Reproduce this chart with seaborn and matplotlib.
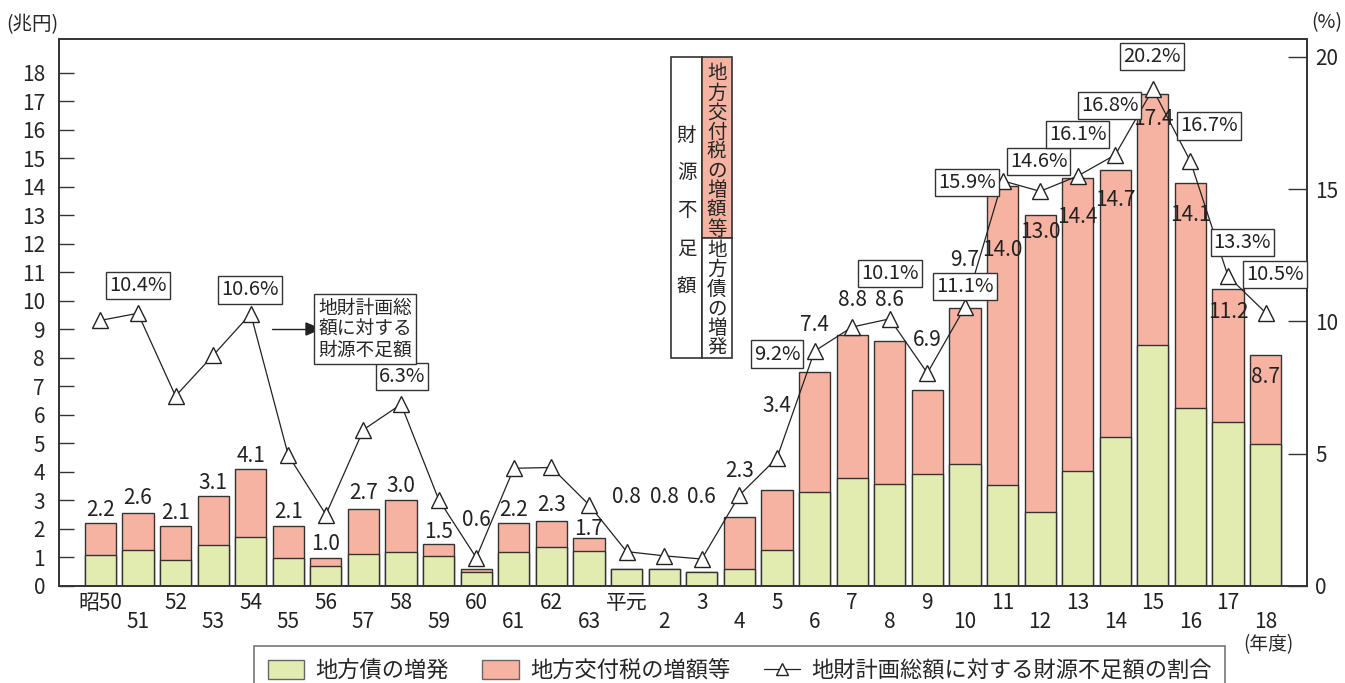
import numpy as np
import pandas as pd
import seaborn as sns
from matplotlib import pyplot as plt
from matplotlib.patches import Patch, Rectangle
from matplotlib.lines import Line2D

# data
years = ["昭50", "51", "52", "53", "54", "55", "56", "57", "58", "59", "60", "61", "62", "63",
         "平元", "2", "3", "4", "5", "6", "7", "8", "9", "10", "11", "12", "13", "14", "15", "16", "17", "18"]
bond = [1.08, 1.26, 0.91, 1.43, 1.71, 0.99, 0.71, 1.11, 1.19, 1.05, 0.48, 1.19, 1.36, 1.22,
        0.60, 0.60, 0.48, 0.58, 1.27, 3.31, 3.78, 3.57, 3.94, 4.28, 3.53, 2.60, 4.02, 5.24, 8.45, 6.23, 5.74, 4.97]
total = [2.20, 2.56, 2.12, 3.16, 4.10, 2.12, 0.99, 2.71, 3.02, 1.46, 0.60, 2.20, 2.27, 1.67,
         0.60, 0.60, 0.48, 2.42, 3.36, 7.49, 8.80, 8.59, 6.89, 9.75, 14.03, 13.00, 14.30, 14.60, 17.25, 14.14, 10.42, 8.09]
total_text = ["2.2", "2.6", "2.1", "3.1", "4.1", "2.1", "1.0", "2.7", "3.0", "1.5", "0.6", "2.2", "2.3", "1.7",
              "0.8", "0.8", "0.6", "2.3", "3.4", "7.4", "8.8", "8.6", "6.9", "9.7", "14.0", "13.0", "14.4", "14.7",
              "17.4", "14.1", "11.2", "8.7"]
ratio = [10.04, 10.31, 7.18, 8.72, 10.29, 4.94, 2.70, 5.91, 6.87, 3.27, 1.07, 4.45, 4.48, 3.07,
         1.30, 1.14, 1.02, 3.43, 4.84, 8.88, 9.79, 10.10, 8.05, 10.54, 15.32, 14.92, 15.50, 16.30, 18.78, 16.05, 11.71, 10.33]
ratio_text = ["10.4%", "10.6%", "6.3%", "9.2%", "10.1%", "11.1%", "15.9%", "14.6%",
              "16.1%", "16.8%", "20.2%", "16.7%", "13.3%", "10.5%"]

# label placement (layout only)
value_y = [2.67, 3.08, 2.57, 3.60, 4.56, 2.61, 1.46, 3.25, 3.52, 1.91, 2.32, 2.67, 2.84, 1.99,
           3.13, 3.13, 3.13, 4.05, 6.32, 9.16, 10.04, 10.04, 8.63, 11.44, 11.79, 12.42, 12.95, 13.54,
           16.39, 13.02, 9.61, 7.33]
box_x = [1.0, 3.98, 8.02, 18.0, 21.0, 23.0, 23.05, 24.96, 26.0, 26.85, 27.97, 29.5, 30.38, 31.25]
box_y = [11.35, 11.19, 7.92, 8.77, 11.8, 11.32, 15.24, 16.03, 17.07, 18.15, 20.01, 17.39, 12.99, 11.78]

green = "#e2ebb0"
pink = "#f7b3a1"
edge = "#333333"

sns.set_theme(style="white")
plt.rcParams["font.family"] = ["Noto Sans CJK JP", "DejaVu Sans"]

df = pd.DataFrame({"year": years, "bond": bond, "total": total, "ratio": ratio})
df["pos"] = np.arange(len(df))

W, H = 1345, 683
fig = plt.figure(figsize=(W / 100, H / 100), dpi=100)
ax = fig.add_axes([59 / W, 1 - 586 / H, (1307 - 59) / W, (586 - 38.7) / H])

sns.barplot(data=df, x="pos", y="total", color=pink, saturation=1, width=0.83,
            edgecolor=edge, linewidth=1, ax=ax)
sns.barplot(data=df, x="pos", y="bond", color=green, saturation=1, width=0.83,
            edgecolor=edge, linewidth=1, ax=ax)

ax.set_xlim(-1.1, 32.1)
ax.set_ylim(0, 19.2)
ax.set_yticks(range(0, 19))
ax.set_xticks(df["pos"])
ax.set_xticklabels(years)
ax.set_xlabel("")
ax.set_ylabel("")
ax.tick_params(axis="y", direction="in", length=11, width=1, color=edge, pad=10, labelsize=15)
ax.tick_params(axis="x", length=0, labelsize=15, colors="#222")
for i, t in enumerate(ax.xaxis.get_major_ticks()):
    t.set_pad(4 if i % 2 == 0 else 18)
for s in ax.spines.values():
    s.set_color(edge)
    s.set_linewidth(1.2)

for i, txt in enumerate(total_text):
    ax.text(i, value_y[i], txt, ha="center", va="center", fontsize=15, color="#222")

ax2 = ax.twinx()
sns.lineplot(data=df, x="pos", y="ratio", ax=ax2, color="#222", linewidth=0.9,
             marker="^", markersize=11, markerfacecolor="white", markeredgecolor="#222",
             markeredgewidth=1)
ax2.set_xlim(-1.1, 32.1)
ax2.set_ylim(0, 20.69)
ax2.set_yticks([0, 5, 10, 15, 20])
ax2.set_xlabel("")
ax2.set_ylabel("")
ax2.tick_params(axis="y", direction="in", length=14, width=1, color=edge, pad=6, labelsize=15)
for s in ax2.spines.values():
    s.set_color(edge)
    s.set_linewidth(1.2)

for t, bx, by in zip(ratio_text, box_x, box_y):
    ax2.text(bx, by, t, ha="center", va="center", fontsize=14.5, color="#222",
             bbox=dict(boxstyle="square,pad=0.15", fc="white", ec=edge, lw=1))

# unit labels
fig.text(32 / W, 1 - 25 / H, "(兆円)", ha="center", va="center", fontsize=14)
fig.text(1327 / W, 1 - 23 / H, "(%)", ha="center", va="center", fontsize=14)
fig.text(1268 / W, 1 - 645 / H, "(年度)", ha="center", va="center", fontsize=13.5)


def fx(px):
    return px / W


def fy(py):
    return 1 - py / H


# vertical explanation box
fig.add_artist(Rectangle((fx(671), fy(358)), fx(701.7) - fx(671), fy(57) - fy(358),
                         transform=fig.transFigure, fc="white", ec=edge, lw=1.2))
fig.add_artist(Rectangle((fx(701.7), fy(238)), fx(731.7) - fx(701.7), fy(57) - fy(238),
                         transform=fig.transFigure, fc=pink, ec=edge, lw=1.2))
fig.add_artist(Rectangle((fx(701.7), fy(358)), fx(731.7) - fx(701.7), fy(238) - fy(358),
                         transform=fig.transFigure, fc="white", ec=edge, lw=1.2))
for k, ch in enumerate("財源不足額"):
    fig.text(fx(686.5), fy(135 + 38 * k), ch, ha="center", va="center", fontsize=14)
for k, ch in enumerate("地方交付税の増額等"):
    fig.text(fx(716.7), fy(74 + 19.4 * k), ch, ha="center", va="center", fontsize=14)
for k, ch in enumerate("地方債の増発"):
    fig.text(fx(716.7), fy(250 + 19.6 * k), ch, ha="center", va="center", fontsize=14)

# small note with arrow
fig.text(fx(365), fy(329), "地財計画総\n額に対する\n財源不足額", ha="center", va="center",
         fontsize=13.5, linespacing=1.0,
         bbox=dict(boxstyle="square,pad=0.2", fc="white", ec=edge, lw=1))
fig.add_artist(plt.Line2D([fx(272), fx(310)], [fy(329), fy(329)], transform=fig.transFigure,
                          color="#222", lw=1))
fig.add_artist(plt.Polygon([[fx(306), fy(323)], [fx(320), fy(329)], [fx(306), fy(335)]],
                           closed=True, transform=fig.transFigure, fc="#222", ec="#222"))

handles = [Patch(fc=green, ec="#666", lw=1),
           Patch(fc=pink, ec="#666", lw=1),
           Line2D([], [], color="#222", lw=0.9, marker="^", markersize=8,
                  markerfacecolor="white", markeredgecolor="#222")]
leg = fig.legend(handles, ["地方債の増発", "地方交付税の増額等", "地財計画総額に対する財源不足額の割合"],
                 loc="upper center", bbox_to_anchor=(fx(739.8), fy(646)), ncol=3, fontsize=16,
                 frameon=True, fancybox=False, edgecolor="#555", handlelength=1.65, handleheight=0.95,
                 handletextpad=0.5, columnspacing=1.5, borderpad=0.6, borderaxespad=0)
leg.get_frame().set_linewidth(1.2)

fig.savefig("out.png", dpi=100)
